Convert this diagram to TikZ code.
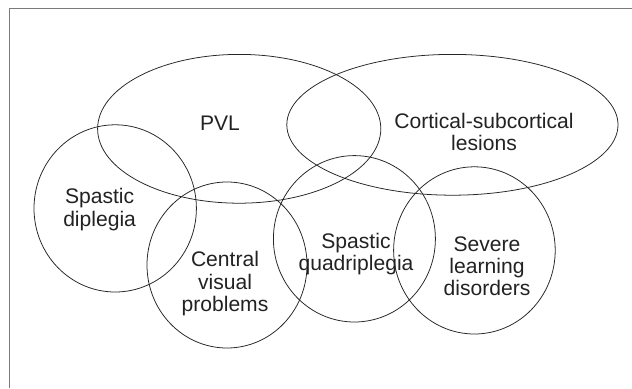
\documentclass[tikz,border=0pt]{standalone}
\usepackage{fontspec}
\setmainfont{Liberation Sans}
\usepackage{tikz}
\usepackage{xcolor}
\definecolor{frameGray}{HTML}{7A7A7A}
\definecolor{labelGray}{HTML}{222222}

\begin{document}
\begin{tikzpicture}[
    set/.style={draw=black!85, line width=0.55pt},
    setLabel/.style={align=center, inner sep=0pt, text=labelGray,
        font=\fontsize{15}{15.8}\selectfont}
]

\useasboundingbox (0,0) rectangle (15.8,9.7);

% Frame
\draw[frameGray, line width=0.9pt] (0.245,0) -- (0.245,9.48) -- (15.8,9.48);

% Upper sets
\draw[set] (5.98,6.48) ellipse (3.54 and 1.86);
\draw[set] (11.31,6.58) ellipse (4.14 and 1.76);

% Lower sets
\draw[set] (2.88,4.49) ellipse (2.03 and 2.09);
\draw[set] (5.675,3.075) ellipse (2.0 and 2.075);
\draw[set] (8.86,3.73) ellipse (2.025 and 2.08);
\draw[set] (11.86,3.44) ellipse (2.02 and 2.09);

% Set Descriptions
\node[setLabel] (pvl) at (5.5,6.63) {PVL};
\node[setLabel] (cortical) at (12.1,6.41) {Cortical-subcortical\\lesions};
\node[setLabel] (diplegia) at (2.49,4.46) {Spastic\\diplegia};
\node[setLabel] (visual) at (5.625,2.61) {Central\\visual\\problems};
\node[setLabel] (quadriplegia) at (8.9,3.35) {Spastic\\quadriplegia};
\node[setLabel] (learning) at (12.175,3.05) {Severe\\learning\\disorders};
\end{tikzpicture}
\end{document}
